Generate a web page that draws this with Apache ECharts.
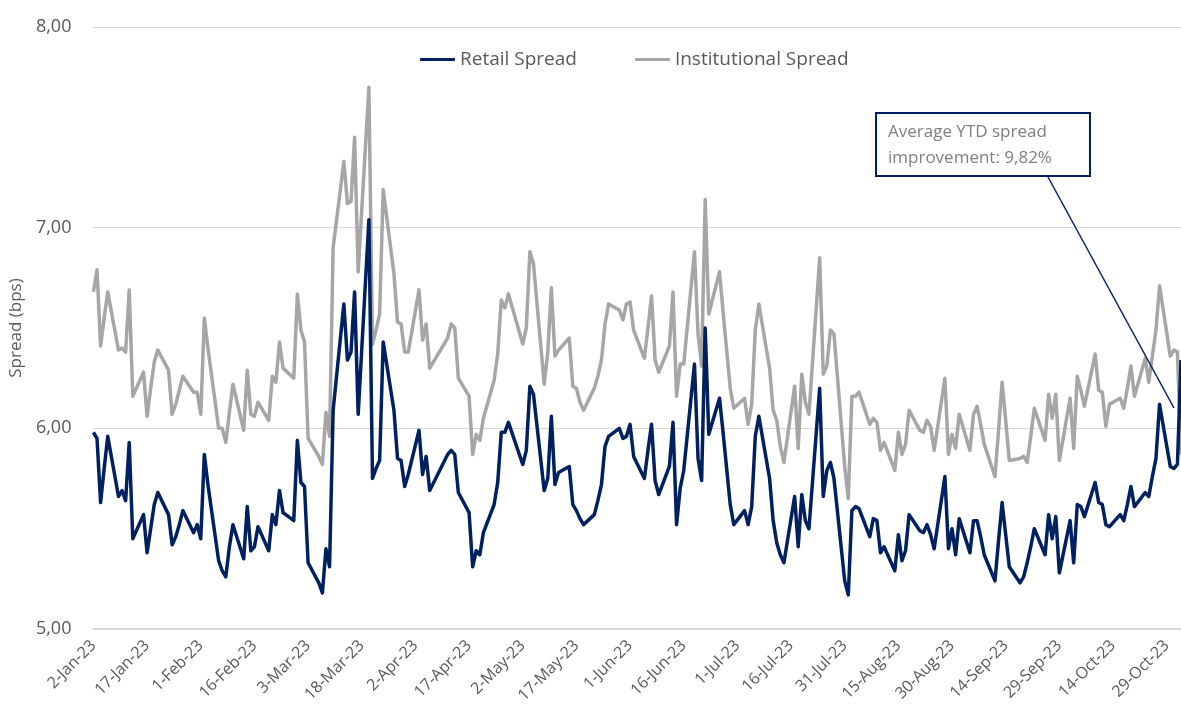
<!DOCTYPE html>
<html>
<head>
  <meta charset="utf-8">
  <script src="https://cdn.jsdelivr.net/npm/echarts@6/dist/echarts.min.js"></script>
  <style>
    html, body { margin: 0; padding: 0; background: #fff; }
    #chart { width: 1181px; height: 722px; }
  </style>
</head>
<body>
  <div id="chart"></div>
  <script>
    // trading days (weekends and a few holidays are missing)
    var tradeDates = [
      '2-Jan-23','3-Jan-23','4-Jan-23','5-Jan-23','6-Jan-23',
      '9-Jan-23','10-Jan-23','11-Jan-23','12-Jan-23','13-Jan-23',
      '16-Jan-23','17-Jan-23','18-Jan-23','19-Jan-23','20-Jan-23',
      '23-Jan-23','24-Jan-23','25-Jan-23','26-Jan-23','27-Jan-23',
      '30-Jan-23','31-Jan-23','1-Feb-23','2-Feb-23','3-Feb-23',
      '6-Feb-23','7-Feb-23','8-Feb-23','9-Feb-23','10-Feb-23',
      '13-Feb-23','14-Feb-23','15-Feb-23','16-Feb-23','17-Feb-23',
      '20-Feb-23','21-Feb-23','22-Feb-23','23-Feb-23','24-Feb-23',
      '27-Feb-23','28-Feb-23','1-Mar-23','2-Mar-23','3-Mar-23',
      '6-Mar-23','7-Mar-23','8-Mar-23','9-Mar-23','10-Mar-23',
      '13-Mar-23','14-Mar-23','15-Mar-23','16-Mar-23','17-Mar-23',
      '20-Mar-23','21-Mar-23','22-Mar-23','23-Mar-23','24-Mar-23',
      '27-Mar-23','28-Mar-23','29-Mar-23','30-Mar-23','31-Mar-23',
      '3-Apr-23','4-Apr-23','5-Apr-23','6-Apr-23',
      '11-Apr-23','12-Apr-23','13-Apr-23','14-Apr-23',
      '17-Apr-23','18-Apr-23','19-Apr-23','20-Apr-23','21-Apr-23',
      '24-Apr-23','25-Apr-23','26-Apr-23','27-Apr-23','28-Apr-23',
      '2-May-23','3-May-23','4-May-23','5-May-23',
      '8-May-23','9-May-23','10-May-23','11-May-23','12-May-23',
      '15-May-23','16-May-23','17-May-23','18-May-23','19-May-23',
      '22-May-23','23-May-23','24-May-23','25-May-23','26-May-23',
      '29-May-23','30-May-23','31-May-23','1-Jun-23','2-Jun-23',
      '5-Jun-23','6-Jun-23','7-Jun-23','8-Jun-23','9-Jun-23',
      '12-Jun-23','13-Jun-23','14-Jun-23','15-Jun-23','16-Jun-23',
      '19-Jun-23','20-Jun-23','21-Jun-23','22-Jun-23','23-Jun-23',
      '26-Jun-23','27-Jun-23','28-Jun-23','29-Jun-23','30-Jun-23',
      '3-Jul-23','4-Jul-23','5-Jul-23','6-Jul-23','7-Jul-23',
      '10-Jul-23','11-Jul-23','12-Jul-23','13-Jul-23','14-Jul-23',
      '17-Jul-23','18-Jul-23','19-Jul-23','20-Jul-23','21-Jul-23',
      '24-Jul-23','25-Jul-23','26-Jul-23','27-Jul-23','28-Jul-23',
      '31-Jul-23','1-Aug-23','2-Aug-23','3-Aug-23','4-Aug-23',
      '7-Aug-23','8-Aug-23','9-Aug-23','10-Aug-23','11-Aug-23',
      '14-Aug-23','15-Aug-23','16-Aug-23','17-Aug-23','18-Aug-23',
      '21-Aug-23','22-Aug-23','23-Aug-23','24-Aug-23','25-Aug-23',
      '28-Aug-23','29-Aug-23','30-Aug-23','31-Aug-23','1-Sep-23',
      '4-Sep-23','5-Sep-23','6-Sep-23','7-Sep-23','8-Sep-23',
      '11-Sep-23','12-Sep-23','13-Sep-23','14-Sep-23','15-Sep-23',
      '18-Sep-23','19-Sep-23','20-Sep-23','21-Sep-23','22-Sep-23',
      '25-Sep-23','26-Sep-23','27-Sep-23','28-Sep-23','29-Sep-23',
      '2-Oct-23','3-Oct-23','4-Oct-23','5-Oct-23','6-Oct-23',
      '9-Oct-23','10-Oct-23','11-Oct-23','12-Oct-23','13-Oct-23',
      '16-Oct-23','17-Oct-23','18-Oct-23','19-Oct-23','20-Oct-23',
      '23-Oct-23','24-Oct-23','25-Oct-23','26-Oct-23','27-Oct-23',
      '30-Oct-23','31-Oct-23','1-Nov-23','2-Nov-23'
    ];

    var retailSpread = [
      5.98,5.95,5.63,5.80,5.96,  5.66,5.69,5.64,5.93,5.45,
      5.57,5.38,5.50,5.62,5.68,  5.57,5.42,5.46,5.52,5.59,
      5.48,5.52,5.45,5.87,5.72,  5.34,5.29,5.26,5.41,5.52,
      5.35,5.61,5.39,5.41,5.51,  5.39,5.57,5.52,5.69,5.58,
      5.54,5.94,5.73,5.71,5.33,  5.23,5.18,5.40,5.31,6.09,
      6.62,6.34,6.38,6.68,6.07,  7.04,5.75,5.80,5.84,6.43,
      6.09,5.85,5.84,5.71,5.77,  5.99,5.77,5.86,5.69,
      5.87,5.89,5.87,5.68,       5.58,5.31,5.39,5.37,5.48,
      5.62,5.73,5.98,5.98,6.03,  5.82,5.89,6.21,6.17,
      5.69,5.75,6.06,5.72,5.78,  5.81,5.62,5.59,5.55,5.52,
      5.57,5.64,5.72,5.91,5.96,  6.00,5.95,5.96,6.02,5.86,
      5.75,5.89,6.02,5.74,5.67,  5.81,6.03,5.52,5.70,5.79,
      6.32,5.85,5.74,6.50,5.97,  6.15,5.98,5.80,5.62,5.52,
      5.59,5.52,5.61,5.96,6.06,  5.75,5.54,5.43,5.37,5.33,
      5.66,5.41,5.67,5.54,5.50,  6.20,5.66,5.79,5.83,5.75,
      5.24,5.17,5.59,5.61,5.60,  5.46,5.55,5.54,5.38,5.41,
      5.29,5.47,5.34,5.39,5.57,  5.49,5.48,5.52,5.47,5.40,
      5.76,5.40,5.50,5.37,5.55,  5.38,5.54,5.54,5.46,5.37,
      5.24,5.44,5.63,5.47,5.31,  5.23,5.26,5.33,5.41,5.50,
      5.37,5.57,5.45,5.56,5.28,  5.54,5.33,5.62,5.61,5.56,
      5.73,5.63,5.62,5.52,5.51,  5.57,5.54,5.62,5.71,5.61,
      5.68,5.66,5.76,5.85,6.12,  5.81,5.80,5.82,6.34
    ];

    var institutionalSpread = [
      6.68,6.79,6.41,6.55,6.68,  6.39,6.40,6.38,6.69,6.16,
      6.28,6.06,6.20,6.33,6.39,  6.29,6.07,6.12,6.19,6.26,
      6.18,6.18,6.07,6.55,6.40,  6.00,6.00,5.93,6.08,6.22,
      5.99,6.29,6.07,6.06,6.13,  6.04,6.26,6.23,6.43,6.30,
      6.25,6.67,6.49,6.43,5.95,  5.86,5.82,6.08,5.96,6.90,
      7.33,7.12,7.13,7.45,6.78,  7.70,6.42,6.49,6.57,7.19,
      6.77,6.53,6.52,6.38,6.38,  6.69,6.44,6.52,6.30,
      6.45,6.52,6.50,6.25,       6.16,5.87,5.97,5.94,6.05,
      6.24,6.37,6.64,6.60,6.67,  6.42,6.50,6.88,6.82,
      6.22,6.38,6.70,6.36,6.39,  6.45,6.21,6.20,6.13,6.09,
      6.20,6.26,6.34,6.52,6.62,  6.59,6.54,6.62,6.63,6.49,
      6.35,6.50,6.66,6.34,6.28,  6.41,6.68,6.16,6.32,6.32,
      6.88,6.47,6.31,7.14,6.57,  6.78,6.58,6.39,6.20,6.10,
      6.15,6.02,6.12,6.49,6.62,  6.30,6.09,6.04,5.91,5.83,
      6.21,5.90,6.27,6.13,6.07,  6.85,6.27,6.31,6.49,6.47,
      5.81,5.65,6.16,6.16,6.18,  6.02,6.05,6.03,5.89,5.93,
      5.79,5.98,5.87,5.92,6.09,  5.99,5.98,6.04,6.01,5.89,
      6.25,5.87,5.97,5.90,6.07,  5.89,6.07,6.11,6.02,5.92,
      5.76,5.99,6.23,6.04,5.84,  5.85,5.86,5.83,5.96,6.10,
      5.94,6.17,6.05,6.17,5.84,  6.15,5.90,6.26,6.19,6.11,
      6.37,6.19,6.18,6.01,6.12,  6.15,6.10,6.20,6.31,6.16,
      6.35,6.23,6.36,6.49,6.71,  6.36,6.39,6.38,5.87
    ];

    var seriesNames = ['Retail Spread', 'Institutional Spread'];
    var noteLines = ['Average YTD spread', 'improvement: 9,82%'];

    // date axis: one category per calendar day, label every 15 days
    var months = ['Jan','Feb','Mar','Apr','May','Jun','Jul','Aug','Sep','Oct','Nov','Dec'];
    var days = [];
    for (var t = Date.UTC(2023, 0, 2); t <= Date.UTC(2023, 10, 2); t += 86400000) {
      var dt = new Date(t);
      days.push(dt.getUTCDate() + '-' + months[dt.getUTCMonth()] + '-' + String(dt.getUTCFullYear()).slice(2));
    }

    function onAxis(values) {
      var out = days.map(function () { return null; });
      tradeDates.forEach(function (d, i) { out[days.indexOf(d)] = values[i]; });
      return out;
    }

    var chart = echarts.init(document.getElementById('chart'));
    var font = '"Open Sans", sans-serif';

    var option = {
      animation: false,
      color: ['#002060', '#a6a6a6'],
      textStyle: { fontFamily: font },
      grid: { left: 93, right: 0, top: 27, bottom: 93, containLabel: false },
      legend: {
        data: seriesNames,
        left: 415,
        top: 45,
        icon: 'roundRect',
        itemWidth: 35,
        itemHeight: 3,
        itemGap: 58,
        textStyle: { fontSize: 19, color: '#595959', fontFamily: font }
      },
      xAxis: {
        type: 'category',
        data: days,
        boundaryGap: false,
        axisLine: { lineStyle: { color: '#d9d9d9', width: 2 } },
        axisTick: { show: false },
        axisLabel: {
          interval: 14,
          rotate: 45,
          margin: 14,
          fontSize: 16,
          color: '#595959',
          fontFamily: font
        },
        splitLine: { show: false }
      },
      yAxis: {
        type: 'value',
        min: 5,
        max: 8,
        interval: 1,
        name: 'Spread (bps)',
        nameLocation: 'middle',
        nameRotate: 90,
        nameGap: 54,
        nameTextStyle: { fontSize: 17, color: '#595959', fontFamily: font },
        axisLine: { show: false },
        axisTick: { show: false },
        axisLabel: {
          margin: 22,
          fontSize: 18,
          color: '#595959',
          fontFamily: font,
          formatter: function (v) { return v.toFixed(2).replace('.', ','); }
        },
        splitLine: { lineStyle: { color: '#d9d9d9', width: 1 } }
      },
      series: [
        {
          name: seriesNames[0],
          type: 'line',
          data: onAxis(retailSpread),
          connectNulls: true,
          symbol: 'none',
          z: 3,
          lineStyle: { width: 3.5, color: '#002060', join: 'round' }
        },
        {
          name: seriesNames[1],
          type: 'line',
          data: onAxis(institutionalSpread),
          connectNulls: true,
          symbol: 'none',
          z: 2,
          lineStyle: { width: 3.5, color: '#a6a6a6', join: 'round' }
        }
      ],
      graphic: [
        {
          type: 'line',
          z: 10,
          shape: { x1: 1048, y1: 177, x2: 1174, y2: 408 },
          style: { stroke: '#002060', lineWidth: 1.5 }
        },
        {
          type: 'rect',
          z: 11,
          shape: { x: 876, y: 113, width: 214, height: 63 },
          style: { fill: '#ffffff', stroke: '#002060', lineWidth: 2 }
        },
        {
          type: 'text',
          z: 12,
          left: 888,
          top: 119,
          style: {
            text: noteLines.join('\n'),
            font: '17px ' + font,
            fill: '#7f7f7f',
            lineHeight: 26
          }
        }
      ]
    };

    chart.setOption(option);
  </script>
</body>
</html>
